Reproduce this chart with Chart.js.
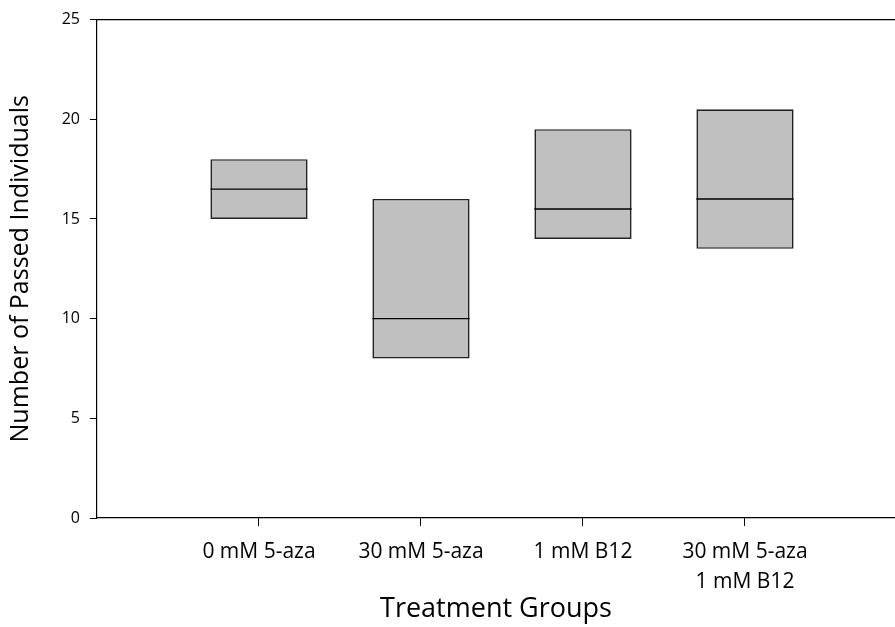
<!DOCTYPE html>
<html>
<head>
<meta charset="utf-8">
<script src="https://cdn.jsdelivr.net/npm/chart.js@4/dist/chart.umd.min.js"></script>
<style>
  html, body { margin: 0; padding: 0; background: #fff; }
  #chart { display: block; }
</style>
</head>
<body>
<canvas id="chart" width="895" height="627"></canvas>
<script>
// treatment groups (last one is two lines)
const groups = ["0 mM 5-aza", "30 mM 5-aza", "1 mM B12", ["30 mM 5-aza", "1 mM B12"]];
// box bottom / median / top
const lower = [15, 8, 14, 13.5];
const median = [16.5, 10, 15.5, 16];
const upper = [18, 16, 19.5, 20.5];
const yTicks = [0, 5, 10, 15, 20, 25];

const font = "'Open Sans', 'DejaVu Sans', sans-serif";

// median line drawn across each box, using the bar elements and the y scale
const medianLines = {
    id: "medianLines",
    afterDatasetsDraw(chart) {
        const meta = chart.getDatasetMeta(0);
        const y = chart.scales.y;
        const ctx = chart.ctx;
        ctx.save();
        ctx.strokeStyle = "#000";
        ctx.lineWidth = 1.3;
        meta.data.forEach((bar, i) => {
            const py = y.getPixelForValue(median[i]);
            ctx.beginPath();
            ctx.moveTo(bar.x - bar.width / 2, py);
            ctx.lineTo(bar.x + bar.width / 2, py);
            ctx.stroke();
        });
        ctx.restore();
    }
};

new Chart(document.getElementById("chart"), {
    type: "bar",
    data: {
        datasets: [{
            data: groups.map((g, i) => ({ x: i + 1, y: [lower[i], upper[i]] })),
            backgroundColor: "#c0c0c0",
            borderColor: "#222",
            borderWidth: 1.6,
            borderSkipped: false,
            categoryPercentage: 0.8,
            barPercentage: 0.75
        }]
    },
    options: {
        responsive: false,
        animation: false,
        devicePixelRatio: 1,
        layout: { padding: { top: 14, right: 0, bottom: 0, left: 0 } },
        plugins: { legend: { display: false }, tooltip: { enabled: false } },
        scales: {
            x: {
                type: "linear",
                position: "bottom",
                offset: false,
                min: 0,
                max: 4.926,
                afterBuildTicks: s => { s.ticks = groups.map((g, i) => ({ value: i + 1 })); },
                afterFit: s => { s.height = 109; },
                ticks: {
                    callback: v => groups[v - 1],
                    color: "#000",
                    font: { family: font, size: 21, lineHeight: 1.43 },
                    padding: 11,
                    maxRotation: 0,
                    autoSkip: false
                },
                grid: { offset: false, drawOnChartArea: false, tickLength: 8, color: "#000", lineWidth: 1 },
                border: { color: "#000", width: 1.2 },
                title: {
                    display: true,
                    text: "Treatment Groups",
                    color: "#000",
                    font: { family: font, size: 27 },
                    padding: { top: 0, bottom: 1 }
                }
            },
            x2: {
                type: "linear",
                position: "top",
                min: 0,
                max: 1,
                ticks: { display: false },
                grid: { display: false },
                border: { display: true, color: "#000", width: 1.2 },
                afterFit: s => { s.height = 0; }
            },
            y: {
                min: 0,
                max: 25,
                afterBuildTicks: s => { s.ticks = yTicks.map(v => ({ value: v })); },
                afterFit: s => { s.width = 97; },
                ticks: {
                    color: "#000",
                    font: { family: font, size: 16 },
                    padding: 10
                },
                grid: { drawOnChartArea: false, tickLength: 7, color: "#000", lineWidth: 1 },
                border: { color: "#000", width: 1.2 },
                title: {
                    display: true,
                    text: "Number of Passed Individuals",
                    color: "#000",
                    font: { family: font, size: 25 },
                    padding: { top: 6, bottom: 0 }
                }
            }
        }
    },
    plugins: [medianLines]
});
</script>
</body>
</html>
